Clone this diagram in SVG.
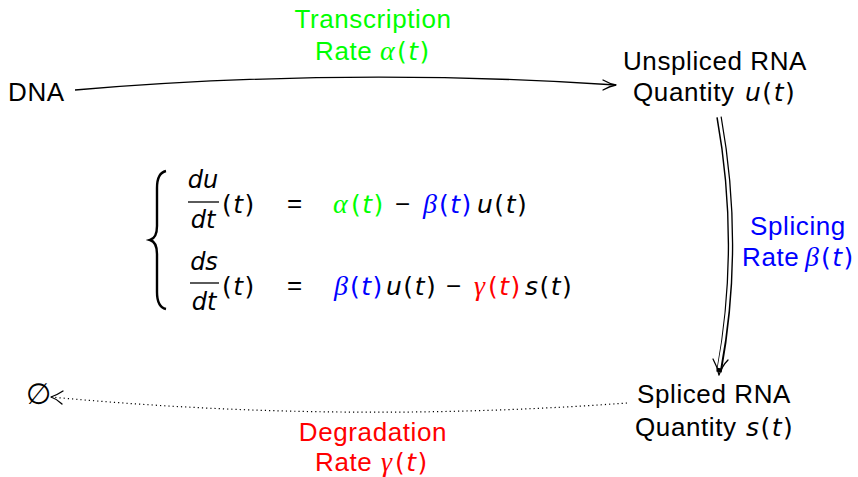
<svg xmlns="http://www.w3.org/2000/svg" width="858" height="477" viewBox="0 0 858 477">
<defs>
<style>
text{font-family:"Liberation Sans","DejaVu Sans",sans-serif;font-size:26px;fill:#000;letter-spacing:0.6px}
.mid{text-anchor:middle}
.m{font-family:"DejaVu Sans",sans-serif;font-size:25px;letter-spacing:1.5px}
.it{font-family:"DejaVu Sans",sans-serif;font-size:25px;font-style:italic;letter-spacing:1.5px}
.fr{font-family:"DejaVu Sans",sans-serif;font-size:24px;font-style:italic;letter-spacing:0}
.gr{font-family:"Liberation Serif","DejaVu Serif",serif;font-style:italic;font-size:28px;letter-spacing:0}
.green{fill:#00ff00}
.blue{fill:#0000ff}
.red{fill:#ff0000}
.conn{fill:none;stroke:#000}
.head{fill:none;stroke:#000;stroke-width:1.3;stroke-linecap:round;stroke-linejoin:round}
</style>
</defs>
<rect width="858" height="477" fill="#fff"/>

<g id="connectors">
  <path class="conn" d="M75,90 Q346,67 616,85" stroke-width="1.3"/>
  <path class="head" d="M603,80 Q610,84 616,85 Q610,86 603,90"/>
  <path class="conn" d="M719,117 Q742,245 719,372" stroke-width="5.5"/>
  <path d="M719,116 Q742,245 719,368" fill="none" stroke="#fff" stroke-width="2.8"/>
  <path class="head" d="M713,359 Q717,366 719,375 Q722,366 728,360"/>
  <path class="conn" d="M627,403 Q340,424 51,397" stroke-width="1.2" stroke-dasharray="1.2 3"/>
  <path class="head" d="M63,391 Q57,395 51,397 Q57,399 62,404"/>
</g>

<g id="dna"><text x="8" y="101">DNA</text></g>

<g id="unspliced">
  <text class="mid" x="715" y="70">Unspliced RNA</text>
  <text x="633" y="101">Quantity<tspan class="it" x="745">u</tspan><tspan class="m">(</tspan><tspan class="it">t</tspan><tspan class="m">)</tspan></text>
</g>

<g id="spliced">
  <text class="mid" x="714" y="403">Spliced RNA</text>
  <text x="635" y="436">Quantity<tspan class="it" x="746">s</tspan><tspan class="m">(</tspan><tspan class="it">t</tspan><tspan class="m">)</tspan></text>
</g>

<g id="empty"><text x="26" y="404" style="font-size:29px">∅</text></g>

<g id="label-transcription">
  <text class="mid green" x="373" y="28">Transcription</text>
  <text class="green" x="315" y="60">Rate<tspan class="gr" x="380">α</tspan><tspan class="m" x="397">(</tspan><tspan class="it">t</tspan><tspan class="m">)</tspan></text>
</g>

<g id="label-splicing">
  <text class="mid blue" x="798" y="235">Splicing</text>
  <text class="blue" x="742" y="266">Rate<tspan class="gr" x="805">β</tspan><tspan class="m" x="821">(</tspan><tspan class="it">t</tspan><tspan class="m">)</tspan></text>
</g>

<g id="label-degradation">
  <text class="mid red" x="373" y="441">Degradation</text>
  <text class="red" x="315" y="471">Rate<tspan class="gr" x="381">γ</tspan><tspan class="m" x="395">(</tspan><tspan class="it">t</tspan><tspan class="m">)</tspan></text>
</g>

<g id="equations">
  <path d="M166,171 Q157,173 157,188 L157,226 Q157,238 150,240 Q157,242 157,254 L157,292 Q157,307 166,309" fill="none" stroke="#000" stroke-width="2.4"/>
  <text class="mid fr" x="203" y="188">du</text>
  <line x1="188" y1="202" x2="219" y2="202" stroke="#000" stroke-width="1.3"/>
  <text class="mid fr" x="203" y="228">dt</text>
  <text y="213"><tspan class="m" x="222">(</tspan><tspan class="it">t</tspan><tspan class="m">)</tspan></text>
  <text class="mid" x="295" y="212">=</text>
  <text y="213"><tspan class="gr green" x="333">α</tspan><tspan class="m green" x="351">(</tspan><tspan class="it green">t</tspan><tspan class="m green">)</tspan><tspan x="395">−</tspan><tspan class="gr blue" x="423">β</tspan><tspan class="m blue" x="439">(</tspan><tspan class="it blue">t</tspan><tspan class="m blue">)</tspan><tspan class="it" x="477">u</tspan><tspan class="m">(</tspan><tspan class="it">t</tspan><tspan class="m">)</tspan></text>

  <text class="mid fr" x="204" y="270">ds</text>
  <line x1="190" y1="283" x2="219" y2="283" stroke="#000" stroke-width="1.3"/>
  <text class="mid fr" x="204" y="310">dt</text>
  <text y="295"><tspan class="m" x="222">(</tspan><tspan class="it">t</tspan><tspan class="m">)</tspan></text>
  <text class="mid" x="295" y="294">=</text>
  <text y="295"><tspan class="gr blue" x="334">β</tspan><tspan class="m blue" x="350">(</tspan><tspan class="it blue">t</tspan><tspan class="m blue">)</tspan><tspan class="it" x="386">u</tspan><tspan class="m">(</tspan><tspan class="it">t</tspan><tspan class="m">)</tspan><tspan x="446">−</tspan><tspan class="gr red" x="474">γ</tspan><tspan class="m red" x="488">(</tspan><tspan class="it red">t</tspan><tspan class="m red">)</tspan><tspan class="it" x="525">s</tspan><tspan class="m">(</tspan><tspan class="it">t</tspan><tspan class="m">)</tspan></text>
</g>
</svg>
